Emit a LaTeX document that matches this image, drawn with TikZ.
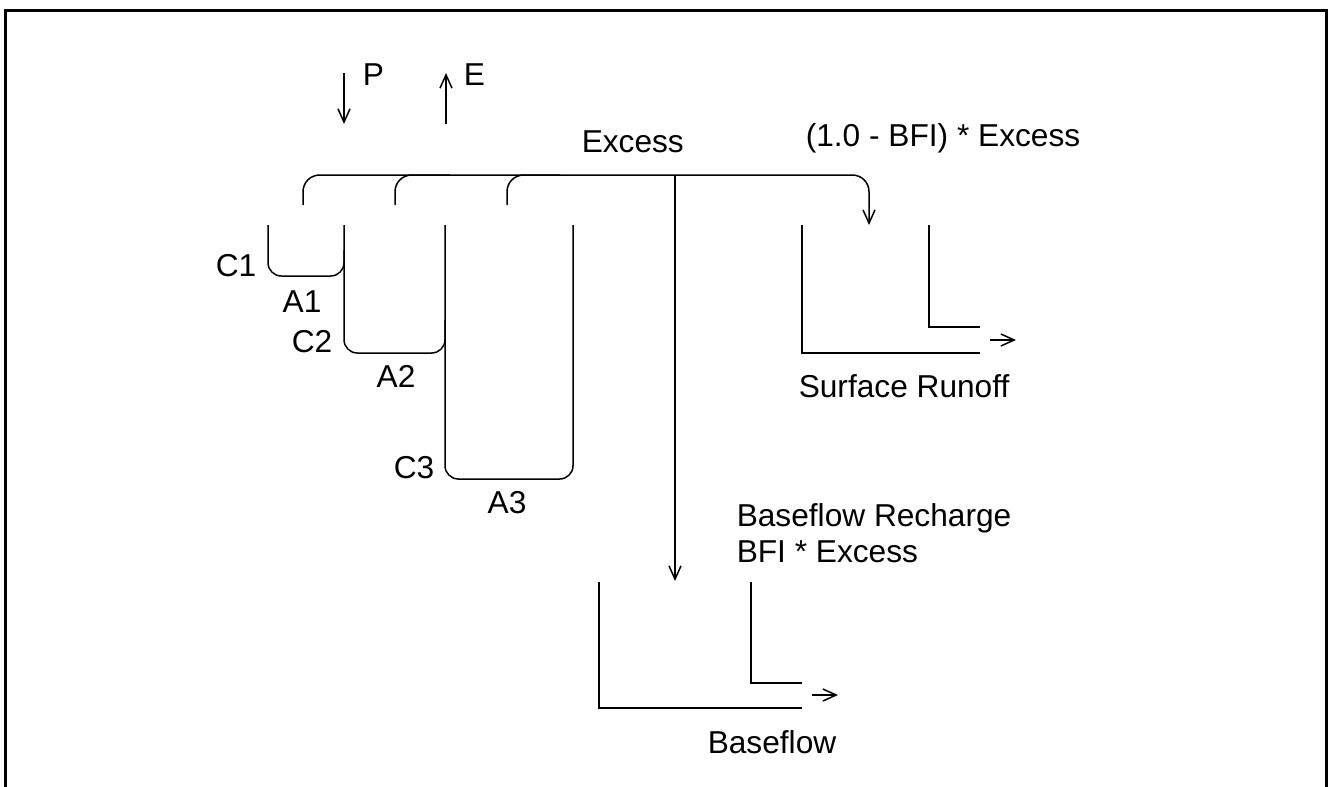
\documentclass[tikz,border=0pt]{standalone}
\usepackage{fontspec}
\setmainfont{Liberation Sans}
\usetikzlibrary{arrows.meta}
\begin{document}
\begin{tikzpicture}[x=0.3pt,y=-0.3pt,line width=.45pt,>={Straight Barb[length=4pt,width=3.6pt]},
  lbl/.style={inner sep=0pt,font=\fontsize{9.5}{11}\selectfont}]
\useasboundingbox (0,0) rectangle (1333,787);
\begin{scope}\clip (0,0) rectangle (1333,787);\draw[line width=1pt] (5.5,10.5) rectangle (1326.5,820);\end{scope}
% inputs
\coordinate (ptop) at (344,73);\coordinate (pbot) at (344,124);\draw[->] (ptop)--(pbot);
\coordinate (ebot) at (446,124);\coordinate (etop) at (446,73);\draw[->] (ebot)--(etop);
\node[lbl,anchor=base west] (p) at (362,85) {P};\node[lbl,anchor=base west] (e) at (463,85) {E};
% excess collector
\coordinate (b1) at (303,205);\coordinate (b2) at (395,205);\coordinate (b3) at (507,205);
\coordinate (split) at (675,175);\coordinate (surfin) at (869,225);\coordinate (basein) at (675,581);
\draw[->,rounded corners=5pt] (b1) |- (split) -| (surfin);
\draw[rounded corners=5pt] (b2) |- (450,175);\draw[rounded corners=5pt] (b3) |- (560,175);
\draw[->] (split)--(basein);
\node[lbl,anchor=base west] (excess) at (581,152) {Excess};
\node[lbl,anchor=base west] (surfrate) at (805,146) {(1.0 - BFI) * Excess};
% soil stores
\draw[rounded corners=4pt] (268,225)--(268,276)--(344,276)--(344,250);
\draw[rounded corners=4pt] (344,225)--(344,353)--(445,353)--(445,320);
\draw[rounded corners=4pt] (445,225)--(445,479)--(573,479)--(573,225);
\node[lbl,anchor=base east] (c1) at (257,276) {C1};\node[lbl,anchor=base] (a1) at (302,312) {A1};
\node[lbl,anchor=base east] (c2) at (333,352) {C2};\node[lbl,anchor=base] (a2) at (396,387) {A2};
\node[lbl,anchor=base east] (c3) at (435,478) {C3};\node[lbl,anchor=base] (a3) at (507,513) {A3};
% surface runoff store
\draw (802,225) |- (980,353);\draw (929,225) |- (980,327);
\coordinate (sout1) at (990,340);\coordinate (sout2) at (1016,340);\draw[->] (sout1)--(sout2);
\node[lbl,anchor=base west] (surf) at (798,397) {Surface Runoff};
% baseflow store
\draw (599,582) |- (802,708);\draw (751,582) |- (802,683);
\coordinate (bout1) at (812,695);\coordinate (bout2) at (838,695);\draw[->] (bout1)--(bout2);
\node[lbl,anchor=base west] (rech) at (736,526) {Baseflow Recharge};
\node[lbl,anchor=base west] (baserate) at (736,562) {BFI * Excess};
\node[lbl,anchor=base west] (base) at (707,753) {Baseflow};
\end{tikzpicture}
\end{document}
